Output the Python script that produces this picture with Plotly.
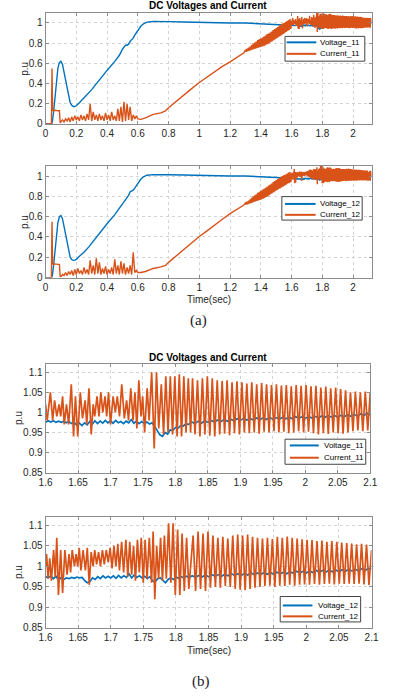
import plotly.graph_objects as go

# ---------------- DATA ----------------
# (a) early part of the DC voltages (seconds, p.u), shared time base
t_a_volt = [0, 0.04, 0.045, 0.048, 0.052, 0.06, 0.07, 0.08, 0.09, 0.1,
            0.11, 0.12, 0.13, 0.14, 0.15, 0.16, 0.17, 0.18, 0.19, 0.2,
            0.22, 0.25, 0.28, 0.3, 0.31, 0.32, 0.35, 0.4, 0.45, 0.48,
            0.5, 0.51, 0.52, 0.53, 0.54, 0.55, 0.56, 0.57, 0.58, 0.6,
            0.62, 0.64, 0.66, 0.7, 0.75, 0.8, 0.9, 1.0, 1.1, 1.2,
            1.3, 1.4, 1.45, 1.5, 1.55, 1.59]
v11_a_early = [0, 0, 0.03, 0.11, 0.12, 0.24, 0.42, 0.55, 0.61, 0.62,
               0.59, 0.51, 0.42, 0.33, 0.26, 0.21, 0.185, 0.172, 0.172, 0.18,
               0.21, 0.255, 0.30, 0.34, 0.36, 0.38, 0.44, 0.53, 0.62, 0.68,
               0.74, 0.76, 0.78, 0.78, 0.79, 0.82, 0.835, 0.85, 0.88, 0.93,
               0.97, 0.995, 1.008, 1.014, 1.015, 1.013, 1.01, 1.005, 1.004, 1.0,
               1.0, 0.995, 0.99, 0.985, 0.98, 0.977]
v12_a_early = [0, 0, 0.03, 0.11, 0.12, 0.24, 0.41, 0.54, 0.60, 0.61,
               0.58, 0.5, 0.41, 0.32, 0.25, 0.2, 0.178, 0.17, 0.172, 0.18,
               0.21, 0.25, 0.3, 0.34, 0.355, 0.37, 0.44, 0.53, 0.62, 0.68,
               0.73, 0.75, 0.77, 0.79, 0.81, 0.845, 0.855, 0.86, 0.88, 0.93,
               0.97, 0.995, 1.008, 1.014, 1.015, 1.013, 1.01, 1.005, 1.004, 1.0,
               1.0, 0.995, 0.99, 0.985, 0.98, 0.977]

# (b) voltages 1.6 .. 1.82 s
t_v_b_early = [1.600, 1.604, 1.608, 1.612, 1.616, 1.620, 1.624, 1.628, 1.632, 1.636,
               1.640, 1.644, 1.648, 1.652, 1.656, 1.660, 1.664, 1.668, 1.672, 1.676,
               1.680, 1.684, 1.688, 1.692, 1.696, 1.700, 1.704, 1.708, 1.712, 1.716,
               1.720, 1.724, 1.728, 1.732, 1.736, 1.740, 1.744, 1.748, 1.752, 1.756,
               1.760, 1.764, 1.768, 1.772, 1.776, 1.780, 1.784, 1.788, 1.792, 1.796,
               1.800, 1.804, 1.808, 1.812, 1.816, 1.820]
v11_b_early = [0.975, 0.979, 0.976, 0.979, 0.975, 0.978, 0.975, 0.978, 0.974, 0.977,
               0.972, 0.975, 0.968, 0.973, 0.967, 0.974, 0.969, 0.977, 0.971, 0.979,
               0.972, 0.978, 0.973, 0.980, 0.974, 0.979, 0.973, 0.980, 0.974, 0.977,
               0.972, 0.978, 0.974, 0.982, 0.973, 0.978, 0.972, 0.977, 0.972, 0.976,
               0.971, 0.974, 0.965, 0.955, 0.944, 0.940, 0.950, 0.946, 0.956, 0.955,
               0.962, 0.961, 0.967, 0.966, 0.971, 0.970]
v12_b_early = [0.975, 0.972, 0.977, 0.970, 0.976, 0.966, 0.973, 0.968, 0.972, 0.970,
               0.973, 0.971, 0.974, 0.972, 0.973, 0.965, 0.960, 0.963, 0.972, 0.968,
               0.975, 0.970, 0.977, 0.972, 0.976, 0.972, 0.977, 0.971, 0.978, 0.972,
               0.977, 0.973, 0.982, 0.972, 0.979, 0.973, 0.977, 0.972, 0.976, 0.970,
               0.975, 0.965, 0.962, 0.970, 0.972, 0.966, 0.960, 0.968, 0.972, 0.968,
               0.974, 0.971, 0.975, 0.972, 0.976, 0.973]

# (b) voltages 1.825 .. 2.1 s
t_v_b_late = [1.825, 1.830, 1.835, 1.840, 1.845, 1.850, 1.855, 1.860, 1.865, 1.870,
              1.875, 1.880, 1.885, 1.890, 1.895, 1.900, 1.905, 1.910, 1.915, 1.920,
              1.925, 1.930, 1.935, 1.940, 1.945, 1.950, 1.955, 1.960, 1.965, 1.970,
              1.975, 1.980, 1.985, 1.990, 1.995, 2.000, 2.005, 2.010, 2.015, 2.020,
              2.025, 2.030, 2.035, 2.040, 2.045, 2.050, 2.055, 2.060, 2.065, 2.070,
              2.075, 2.080, 2.085, 2.090, 2.095, 2.100]
v11_b_late = [0.976, 0.972, 0.978, 0.973, 0.979, 0.975, 0.980, 0.976, 0.981, 0.977,
              0.982, 0.978, 0.983, 0.979, 0.984, 0.980, 0.985, 0.981, 0.985, 0.981,
              0.986, 0.982, 0.986, 0.982, 0.987, 0.983, 0.987, 0.983, 0.988, 0.984,
              0.988, 0.984, 0.989, 0.985, 0.989, 0.985, 0.990, 0.986, 0.990, 0.986,
              0.991, 0.987, 0.992, 0.988, 0.992, 0.988, 0.993, 0.989, 0.994, 0.990,
              0.995, 0.991, 0.996, 0.992, 0.997, 0.994]
v12_b_late = [0.977, 0.973, 0.978, 0.974, 0.979, 0.975, 0.980, 0.976, 0.980, 0.976,
              0.981, 0.977, 0.982, 0.978, 0.982, 0.978, 0.983, 0.979, 0.984, 0.980,
              0.984, 0.980, 0.985, 0.981, 0.985, 0.981, 0.986, 0.982, 0.986, 0.982,
              0.987, 0.983, 0.988, 0.984, 0.988, 0.984, 0.989, 0.985, 0.990, 0.986,
              0.990, 0.986, 0.991, 0.987, 0.991, 0.987, 0.992, 0.988, 0.993, 0.989,
              0.993, 0.989, 0.994, 0.990, 0.995, 0.993]

# (a) voltage tail past 2.1 s
t_v_tail = [2.11, 2.12]
v11_tail = [0.996, 0.997]
v12_tail = [0.994, 0.996]

# (a) current start-up spike and plateau
t_a_start = [0, 0.038, 0.04, 0.042, 0.044, 0.046, 0.05, 0.06, 0.07, 0.08, 0.09, 0.092, 0.095]
i11_a_start = [0, 0, 0.3, 0.55, 0.3, 0.14, 0.13, 0.135, 0.13, 0.13, 0.13, 0.06, 0.01]
i12_a_start = [0, 0, 0.3, 0.55, 0.3, 0.14, 0.13, 0.135, 0.13, 0.13, 0.13, 0.06, 0.01]

# (a) current noisy segment 0.1 .. 0.6 s
t_a_noise = [0.10, 0.11, 0.12, 0.13, 0.14, 0.15, 0.16, 0.17, 0.18, 0.19,
             0.20, 0.21, 0.22, 0.23, 0.24, 0.25, 0.26, 0.27, 0.28, 0.29,
             0.30, 0.31, 0.32, 0.33, 0.34, 0.35, 0.36, 0.37, 0.38, 0.39,
             0.40, 0.41, 0.42, 0.43, 0.44, 0.45, 0.46, 0.47, 0.48, 0.49,
             0.50, 0.51, 0.52, 0.53, 0.54, 0.55, 0.56, 0.57, 0.58, 0.59, 0.60]
i11_a_noise = [0.02, 0.04, 0.02, 0.05, 0.03, 0.06, 0.02, 0.07, 0.03, 0.08,
               0.04, 0.07, 0.03, 0.09, 0.04, 0.08, 0.03, 0.10, 0.04, 0.20,
               0.03, 0.12, 0.04, 0.09, 0.03, 0.10, 0.04, 0.08, 0.03, 0.11,
               0.04, 0.09, 0.03, 0.12, 0.04, 0.08, 0.03, 0.15, 0.03, 0.17,
               0.02, 0.22, 0.03, 0.20, 0.04, 0.17, 0.03, 0.09, 0.05, 0.08, 0.05]
i12_a_noise = [0.01, 0.03, 0.02, 0.05, 0.02, 0.06, 0.03, 0.07, 0.02, 0.08,
               0.03, 0.09, 0.04, 0.07, 0.03, 0.10, 0.04, 0.08, 0.03, 0.17,
               0.04, 0.12, 0.03, 0.19, 0.04, 0.15, 0.03, 0.09, 0.04, 0.11,
               0.03, 0.08, 0.04, 0.10, 0.03, 0.18, 0.04, 0.12, 0.03, 0.16,
               0.04, 0.14, 0.03, 0.10, 0.04, 0.12, 0.03, 0.25, 0.05, 0.07, 0.05]

# (a) current ramp 0.62 .. 1.29 s
t_a_ramp = [0.62, 0.65, 0.68, 0.7, 0.75, 0.78, 0.8, 0.85, 0.9, 0.95,
            1.0, 1.05, 1.1, 1.15, 1.2, 1.25, 1.27, 1.29]
i11_a_ramp = [0.045, 0.06, 0.085, 0.095, 0.11, 0.13, 0.16, 0.225, 0.29, 0.35,
              0.41, 0.465, 0.52, 0.57, 0.615, 0.665, 0.69, 0.705]
i12_a_ramp = [0.05, 0.06, 0.08, 0.09, 0.105, 0.12, 0.15, 0.215, 0.28, 0.345,
              0.405, 0.46, 0.52, 0.575, 0.63, 0.68, 0.70, 0.715]

# (a) current with growing ripple 1.3 .. 1.595 s
t_a_grow = [1.300, 1.305, 1.310, 1.315, 1.320, 1.325, 1.330, 1.335, 1.340, 1.345,
            1.350, 1.355, 1.360, 1.365, 1.370, 1.375, 1.380, 1.385, 1.390, 1.395,
            1.400, 1.405, 1.410, 1.415, 1.420, 1.425, 1.430, 1.435, 1.440, 1.445,
            1.450, 1.455, 1.460, 1.465, 1.470, 1.475, 1.480, 1.485, 1.490, 1.495,
            1.500, 1.505, 1.510, 1.515, 1.520, 1.525, 1.530, 1.535, 1.540, 1.545,
            1.550, 1.555, 1.560, 1.565, 1.570, 1.575, 1.580, 1.585, 1.590, 1.595]
i11_a_grow = [0.735, 0.715, 0.745, 0.72, 0.755, 0.725, 0.765, 0.73, 0.78, 0.735,
              0.795, 0.74, 0.805, 0.745, 0.815, 0.75, 0.83, 0.755, 0.84, 0.76,
              0.845, 0.765, 0.855, 0.77, 0.865, 0.775, 0.875, 0.785, 0.89, 0.79,
              0.895, 0.80, 0.905, 0.81, 0.915, 0.82, 0.93, 0.83, 0.94, 0.84,
              0.95, 0.85, 0.96, 0.86, 0.975, 0.87, 0.985, 0.88, 0.995, 0.89,
              1.0, 0.90, 1.01, 0.91, 1.02, 0.92, 1.03, 0.93, 1.04, 0.94]
i12_a_grow = [0.735, 0.718, 0.748, 0.722, 0.758, 0.728, 0.77, 0.733, 0.785, 0.738,
              0.80, 0.745, 0.81, 0.75, 0.82, 0.755, 0.835, 0.76, 0.845, 0.765,
              0.855, 0.77, 0.865, 0.778, 0.875, 0.785, 0.885, 0.795, 0.895, 0.80,
              0.905, 0.81, 0.915, 0.82, 0.925, 0.83, 0.94, 0.84, 0.95, 0.85,
              0.96, 0.86, 0.97, 0.87, 0.98, 0.878, 0.99, 0.888, 1.0, 0.895,
              1.01, 0.905, 1.015, 0.915, 1.025, 0.925, 1.035, 0.932, 1.04, 0.94]

# (b) Current_11 irregular part 1.6 .. 1.823 s
t_i11_irr = [1.6000, 1.6025, 1.6074, 1.6109, 1.6139, 1.6173, 1.6208, 1.6233, 1.6262, 1.6287,
             1.6322, 1.6356, 1.6396, 1.6431, 1.6460, 1.6495, 1.6535, 1.6569, 1.6609, 1.6634,
             1.6668, 1.6703, 1.6733, 1.6757, 1.6792, 1.6822, 1.6851, 1.6881, 1.6916, 1.6941,
             1.6970, 1.7000, 1.7040, 1.7074, 1.7104, 1.7139, 1.7173, 1.7213, 1.7248, 1.7277,
             1.7312, 1.7347, 1.7376, 1.7406, 1.7436, 1.7470, 1.7495, 1.7525, 1.7564, 1.7594,
             1.7634, 1.7673, 1.7708, 1.7743, 1.7782, 1.7817, 1.7851, 1.7886, 1.7921, 1.7955,
             1.7990, 1.8025, 1.8059, 1.8094, 1.8129, 1.8163, 1.8198, 1.8233]
i11_irr = [1.02, 0.98, 1.05, 0.98, 1.03, 0.99, 1.02, 0.99, 1.04, 0.97,
           1.02, 0.97, 1.07, 0.94, 1.04, 0.94, 1.05, 0.985, 1.03, 0.97,
           1.06, 0.945, 1.02, 0.99, 1.04, 0.99, 1.05, 1.0, 1.04, 0.99,
           1.05, 0.97, 1.04, 1.0, 1.04, 0.99, 1.07, 0.985, 1.03, 0.98,
           1.06, 0.98, 1.05, 0.96, 1.08, 0.99, 1.04, 0.95, 1.06, 0.98,
           1.1, 0.91, 1.1, 0.96, 1.07, 0.945, 1.09, 0.95, 1.09, 0.945,
           1.09, 0.94, 1.095, 0.94, 1.09, 0.95, 1.085, 0.95]

# (b) Current_12 irregular part 1.6 .. 1.82 s
t_i12_irr = [1.6000, 1.6015, 1.6039, 1.6064, 1.6089, 1.6123, 1.6148, 1.6172, 1.6197, 1.6232,
             1.6261, 1.6296, 1.6330, 1.6360, 1.6384, 1.6409, 1.6443, 1.6468, 1.6493, 1.6517,
             1.6542, 1.6576, 1.6611, 1.6640, 1.6670, 1.6700, 1.6729, 1.6754, 1.6783, 1.6813,
             1.6842, 1.6872, 1.6901, 1.6931, 1.6961, 1.6990, 1.7020, 1.7049, 1.7079, 1.7108,
             1.7133, 1.7167, 1.7197, 1.7232, 1.7261, 1.7291, 1.7320, 1.7350, 1.7379, 1.7409,
             1.7438, 1.7468, 1.7498, 1.7527, 1.7557, 1.7591, 1.7626, 1.7650, 1.7675, 1.7704,
             1.7734, 1.7764, 1.7793, 1.7823, 1.7852, 1.7887, 1.7921, 1.7956, 1.7990, 1.8025,
             1.8059, 1.8094, 1.8128, 1.8163, 1.8197]
i12_irr = [1.0, 1.03, 0.97, 1.02, 0.965, 1.04, 0.975, 1.07, 0.93, 1.04,
           0.935, 1.04, 0.98, 1.03, 0.985, 1.04, 1.0, 1.03, 1.0, 1.045,
           0.99, 1.04, 0.99, 1.045, 0.955, 1.035, 1.0, 1.04, 1.005, 1.035,
           1.0, 1.04, 1.005, 1.04, 1.01, 1.045, 0.995, 1.05, 1.0, 1.055,
           0.99, 1.06, 0.985, 1.065, 0.975, 1.06, 0.98, 1.05, 0.965, 1.065,
           0.985, 1.07, 0.96, 1.065, 0.97, 1.07, 0.96, 1.085, 0.92, 1.05,
           0.97, 1.07, 0.965, 1.075, 0.97, 1.105, 0.96, 1.105, 0.93, 1.09,
           0.93, 1.08, 0.94, 1.07, 0.945]

# (b) currents, regular oscillation 1.826 .. 2.1 s (peak / trough samples)
t_reg = [1.8263, 1.8301, 1.8339, 1.8377, 1.8415, 1.8453, 1.8491, 1.8529, 1.8567, 1.8605,
         1.8643, 1.8681, 1.8719, 1.8757, 1.8795, 1.8833, 1.8871, 1.8909, 1.8947, 1.8985,
         1.9023, 1.9061, 1.9099, 1.9137, 1.9175, 1.9213, 1.9251, 1.9289, 1.9327, 1.9365,
         1.9403, 1.9441, 1.9479, 1.9517, 1.9555, 1.9593, 1.9631, 1.9669, 1.9707, 1.9745,
         1.9783, 1.9821, 1.9859, 1.9897, 1.9935, 1.9973, 2.0011, 2.0049, 2.0087, 2.0125,
         2.0163, 2.0201, 2.0239, 2.0277, 2.0315, 2.0353, 2.0391, 2.0429, 2.0467, 2.0505,
         2.0543, 2.0581, 2.0619, 2.0657, 2.0695, 2.0733, 2.0771, 2.0809, 2.0847, 2.0885,
         2.0923, 2.0961]
i11_reg = [1.085, 0.945, 1.08, 0.94, 1.085, 0.945, 1.09, 0.942, 1.085, 0.94,
           1.08, 0.945, 1.078, 0.947, 1.08, 0.943, 1.075, 0.948, 1.077, 0.945,
           1.075, 0.95, 1.072, 0.948, 1.075, 0.95, 1.07, 0.947, 1.073, 0.952,
           1.07, 0.95, 1.068, 0.953, 1.07, 0.95, 1.067, 0.952, 1.068, 0.948,
           1.065, 0.95, 1.068, 0.953, 1.066, 0.95, 1.068, 0.952, 1.065, 0.948,
           1.066, 0.945, 1.062, 0.948, 1.064, 0.946, 1.06, 0.95, 1.062, 0.948,
           1.058, 0.947, 1.055, 0.95, 1.05, 0.953, 1.052, 0.955, 1.05, 0.953,
           1.052, 0.955]
i12_reg = [1.075, 0.94, 1.085, 0.945, 1.08, 0.94, 1.085, 0.948, 1.075, 0.95,
           1.07, 0.948, 1.072, 0.952, 1.068, 0.95, 1.075, 0.945, 1.078, 0.943,
           1.075, 0.942, 1.078, 0.945, 1.072, 0.948, 1.07, 0.95, 1.068, 0.952,
           1.07, 0.953, 1.067, 0.95, 1.072, 0.953, 1.07, 0.952, 1.073, 0.955,
           1.07, 0.953, 1.068, 0.955, 1.066, 0.956, 1.065, 0.955, 1.064, 0.957,
           1.062, 0.955, 1.063, 0.957, 1.06, 0.958, 1.062, 0.956, 1.06, 0.958,
           1.058, 0.957, 1.057, 0.958, 1.056, 0.957, 1.054, 0.958, 1.055, 0.956,
           1.053, 0.955]

# value at the 2.1 s edge
t_end = [2.1]
i11_end = [1.05]
i12_end = [1.04]

# (a) current tail past 2.1 s
t_i_tail = [2.1038, 2.1076, 2.1114, 2.1152, 2.12]
i11_tail = [0.955, 1.05, 0.953, 1.048, 1.0]
i12_tail = [0.957, 1.052, 0.955, 1.05, 1.0]

# tick labels
ticks_a_x = [0, 0.2, 0.4, 0.6, 0.8, 1, 1.2, 1.4, 1.6, 1.8, 2]
ticks_a_x_text = ["0", "0.2", "0.4", "0.6", "0.8", "1", "1.2", "1.4", "1.6", "1.8", "2"]
ticks_a_y = [0, 0.2, 0.4, 0.6, 0.8, 1]
ticks_a_y_text = ["0", "0.2", "0.4", "0.6", "0.8", "1"]
ticks_b_x = [1.6, 1.65, 1.7, 1.75, 1.8, 1.85, 1.9, 1.95, 2.0, 2.05, 2.1]
ticks_b_x_text = ["1.6", "1.65", "1.7", "1.75", "1.8", "1.85", "1.9", "1.95", "2", "2.05", "2.1"]
ticks_b_y = [0.85, 0.9, 0.95, 1.0, 1.05, 1.1]
ticks_b_y_text = ["0.85", "0.9", "0.95", "1", "1.05", "1.1"]

series_names = [("Voltage_11", "Current_11"), ("Voltage_12", "Current_12"),
                ("Voltage_11", "Current_11"), ("Voltage_12", "Current_12")]

# ---------------- assemble series ----------------
tb_v = t_v_b_early + t_v_b_late
v11_b = v11_b_early + v11_b_late
v12_b = v12_b_early + v12_b_late
tb_i11 = t_i11_irr + t_reg + t_end
ib11 = i11_irr + i11_reg + i11_end
tb_i12 = t_i12_irr + t_reg + t_end
ib12 = i12_irr + i12_reg + i12_end

ta_v = t_a_volt + tb_v + t_v_tail
va11 = v11_a_early + v11_b + v11_tail
va12 = v12_a_early + v12_b + v12_tail
ta_i11 = t_a_start + t_a_noise + t_a_ramp + t_a_grow + tb_i11 + t_i_tail
ia11 = i11_a_start + i11_a_noise + i11_a_ramp + i11_a_grow + ib11 + i11_tail
ta_i12 = t_a_start + t_a_noise + t_a_ramp + t_a_grow + tb_i12 + t_i_tail
ia12 = i12_a_start + i12_a_noise + i12_a_ramp + i12_a_grow + ib12 + i12_tail

# ---------------- figure ----------------
W, H = 393, 698
BLUE = "#0072BD"
ORANGE = "#D95319"
FONT = "Liberation Sans"
AXC = "#8c8c8c"
TXT = "#262626"


def fx(p):
    return p / W


def fy(p):
    return 1 - p / H


# panel boxes in pixels: left, right, top, bottom
panels = [(40, 378, 13, 125), (40, 378, 167.3, 280),
          (40, 376.7, 367.3, 476.7), (40, 378, 521.7, 633.3)]
data = [(ta_v, va11, ta_i11, ia11, 1.4), (ta_v, va12, ta_i12, ia12, 1.4),
        (tb_v, v11_b, tb_i11, ib11, 1.7), (tb_v, v12_b, tb_i12, ib12, 1.7)]
xranges = [[0, 2.12], [0, 2.12], [1.6, 2.1], [1.6, 2.1]]
yranges = [[0, 1.1], [0, 1.1], [0.85, 1.12], [0.85, 1.12]]
xt = [(ticks_a_x, ticks_a_x_text)] * 2 + [(ticks_b_x, ticks_b_x_text)] * 2
yt = [(ticks_a_y, ticks_a_y_text)] * 2 + [(ticks_b_y, ticks_b_y_text)] * 2

fig = go.Figure()
layout = dict(width=W, height=H, margin=dict(l=0, r=0, t=0, b=0),
              paper_bgcolor="white", plot_bgcolor="white", showlegend=False)

for k in range(4):
    sfx = "" if k == 0 else str(k + 1)
    tv, vv, ti, ii, lw = data[k]
    fig.add_trace(go.Scatter(x=tv, y=vv, mode="lines", name=series_names[k][0],
                             line=dict(color=BLUE, width=lw),
                             xaxis="x" + sfx, yaxis="y" + sfx))
    fig.add_trace(go.Scatter(x=ti, y=ii, mode="lines", name=series_names[k][1],
                             line=dict(color=ORANGE, width=lw),
                             xaxis="x" + sfx, yaxis="y" + sfx))
    l, r, t, b = panels[k]
    common = dict(showline=True, linecolor=AXC, linewidth=1, mirror="ticks",
                  ticks="inside", ticklen=3, tickcolor=AXC, showgrid=True,
                  gridcolor="#d4d4d4", griddash="dot", gridwidth=1, zeroline=False,
                  tickfont=dict(family=FONT, size=10, color=TXT))
    layout["xaxis" + sfx] = dict(common, domain=[fx(l), fx(r)], range=xranges[k],
                                 tickvals=xt[k][0], ticktext=xt[k][1],
                                 anchor="y" + sfx)
    layout["yaxis" + sfx] = dict(common, domain=[fy(b), fy(t)], range=yranges[k],
                                 tickvals=yt[k][0], ticktext=yt[k][1],
                                 anchor="x" + sfx)

fig.update_layout(**layout)

annotations = []
shapes = []


def text(x, y, s, size=10, bold=False, angle=0, family=FONT, color=TXT, anchor="center"):
    annotations.append(dict(xref="paper", yref="paper", x=fx(x), y=fy(y),
                            text=("<b>%s</b>" % s) if bold else s, showarrow=False,
                            xanchor=anchor, yanchor="middle", textangle=angle,
                            font=dict(family=family, size=size, color=color)))


# titles and axis labels
text(208, 6, "DC Voltages and Current", size=10, bold=True, color="#000")
text(208, 360.7, "DC Voltages and Current", size=10, bold=True, color="#000")
text(18, 69, "p.u", angle=-90)
text(18, 223.6, "p.u", angle=-90)
text(12, 422, "p.u", angle=-90)
text(12, 577.5, "p.u", angle=-90)
text(209, 301.7, "Time(sec)")
text(209, 655.7, "Time(sec)")
text(199, 323, "(a)", size=15, family="Liberation Serif", color="#1a1a2a")
text(201, 687, "(b)", size=15, family="Liberation Serif", color="#1a1a2a")

# legends (box, line samples, labels)
legends = [(288.3, 371, 36.7, 61.7, 42.7, 54.3, 290, 320.7, 322.7),
           (285, 368.3, 198.3, 222, 205.7, 216.7, 288.3, 320, 322),
           (288.3, 372, 443, 468.3, 449.3, 461.7, 293.3, 323.3, 326.7),
           (283.3, 366.7, 601.7, 627.3, 610.7, 621.7, 286, 316.7, 320)]
for k, (x0, x1, y0, y1, r1, r2, l0, l1, tx) in enumerate(legends):
    shapes.append(dict(type="rect", xref="paper", yref="paper",
                       x0=fx(x0), x1=fx(x1), y0=fy(y1), y1=fy(y0),
                       line=dict(color="#444444", width=1), fillcolor="white", layer="above"))
    for row, col, name in ((r1, BLUE, series_names[k][0]), (r2, ORANGE, series_names[k][1])):
        shapes.append(dict(type="line", xref="paper", yref="paper",
                           x0=fx(l0), x1=fx(l1), y0=fy(row), y1=fy(row),
                           line=dict(color=col, width=2), layer="above"))
        text(tx, row, name, size=8, color="#000", anchor="left")

fig.update_layout(annotations=annotations, shapes=shapes)
fig.write_html("out.html", config={"displayModeBar": False},
               post_script="document.body.style.margin='0px';document.body.style.overflow='hidden';")
